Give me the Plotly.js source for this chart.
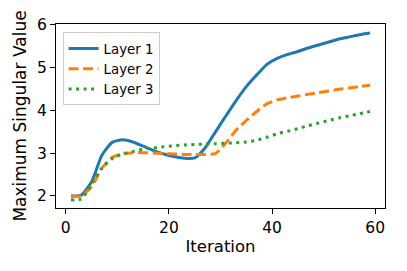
<!DOCTYPE html>
<html>
<head>
<meta charset="utf-8">
<script src="https://cdn.plot.ly/plotly-3.0.1.min.js"></script>
<style>html,body{margin:0;padding:0;background:#fff;}#chart{width:407px;height:271px;}</style>
</head>
<body>
<div id="chart"></div>
<script>
const iterations = [1,3,5,7,9,11,13,15,17,19,21,23,25,27,29,31,33,35,37,39,41,43,45,47,49,51,53,55,57,59];
const layer1 = [2.0,2.02,2.33,2.95,3.25,3.31,3.26,3.16,3.06,2.98,2.92,2.88,2.89,3.12,3.49,3.86,4.22,4.55,4.82,5.07,5.21,5.30,5.37,5.45,5.52,5.59,5.66,5.71,5.76,5.80];
const layer2 = [2.0,2.0,2.22,2.65,2.90,2.98,3.01,3.01,3.0,2.99,2.98,2.97,2.97,2.97,2.99,3.23,3.53,3.76,3.97,4.15,4.24,4.29,4.33,4.37,4.41,4.45,4.49,4.52,4.55,4.58];
const layer3 = [1.91,1.93,2.28,2.65,2.87,2.98,3.04,3.09,3.12,3.15,3.17,3.19,3.20,3.21,3.22,3.23,3.24,3.26,3.30,3.37,3.45,3.51,3.57,3.64,3.70,3.76,3.82,3.87,3.92,3.97];
const seriesNames = ["Layer 1","Layer 2","Layer 3"];
const xTicks = [0,20,40,60];
const yTicks = [2,3,4,5,6];

const font = "DejaVu Sans, sans-serif";
const traces = [
  {x: iterations, y: layer1, name: seriesNames[0], mode: "lines", line: {color: "#1f77b4", width: 3, shape: "spline", smoothing: 0.6}},
  {x: iterations, y: layer2, name: seriesNames[1], mode: "lines", line: {color: "#ff7f0e", width: 3, dash: "10px,4.5px", shape: "spline", smoothing: 0.6}},
  {x: iterations, y: layer3, name: seriesNames[2], mode: "lines", line: {color: "#2ca02c", width: 3, dash: "3px,4.5px", shape: "spline", smoothing: 0.6}}
];
const layout = {
  width: 407, height: 271,
  margin: {l: 56, r: 22, t: 24, b: 63},
  paper_bgcolor: "#fff", plot_bgcolor: "#fff",
  font: {family: font, color: "#000", size: 15},
  showlegend: true,
  legend: {x: 0.02, y: 0.955, xanchor: "left", yanchor: "top", bgcolor: "rgba(255,255,255,0.8)", bordercolor: "#cccccc", borderwidth: 1, font: {family: font, size: 13.3, color: "#000"}},
  xaxis: {
    range: [-1.9, 61.9], tickvals: xTicks, ticktext: xTicks.map(String),
    showline: true, mirror: true, linecolor: "#000", linewidth: 1,
    ticks: "outside", ticklen: 5, tickwidth: 1, tickcolor: "#000",
    showgrid: false, zeroline: false,
    tickfont: {family: font, size: 15.5},
    title: {text: "Iteration", font: {family: font, size: 16.5}, standoff: 4}
  },
  yaxis: {
    range: [1.72, 6.01], tickvals: yTicks, ticktext: yTicks.map(String),
    showline: true, mirror: true, linecolor: "#000", linewidth: 1,
    ticks: "outside", ticklen: 5, tickwidth: 1, tickcolor: "#000",
    showgrid: false, zeroline: false,
    tickfont: {family: font, size: 15.5},
    title: {text: "Maximum Singular Value", font: {family: font, size: 17}, standoff: 6}
  }
};
Plotly.newPlot("chart", traces, layout, {displayModeBar: false, staticPlot: true});
</script>
</body>
</html>
